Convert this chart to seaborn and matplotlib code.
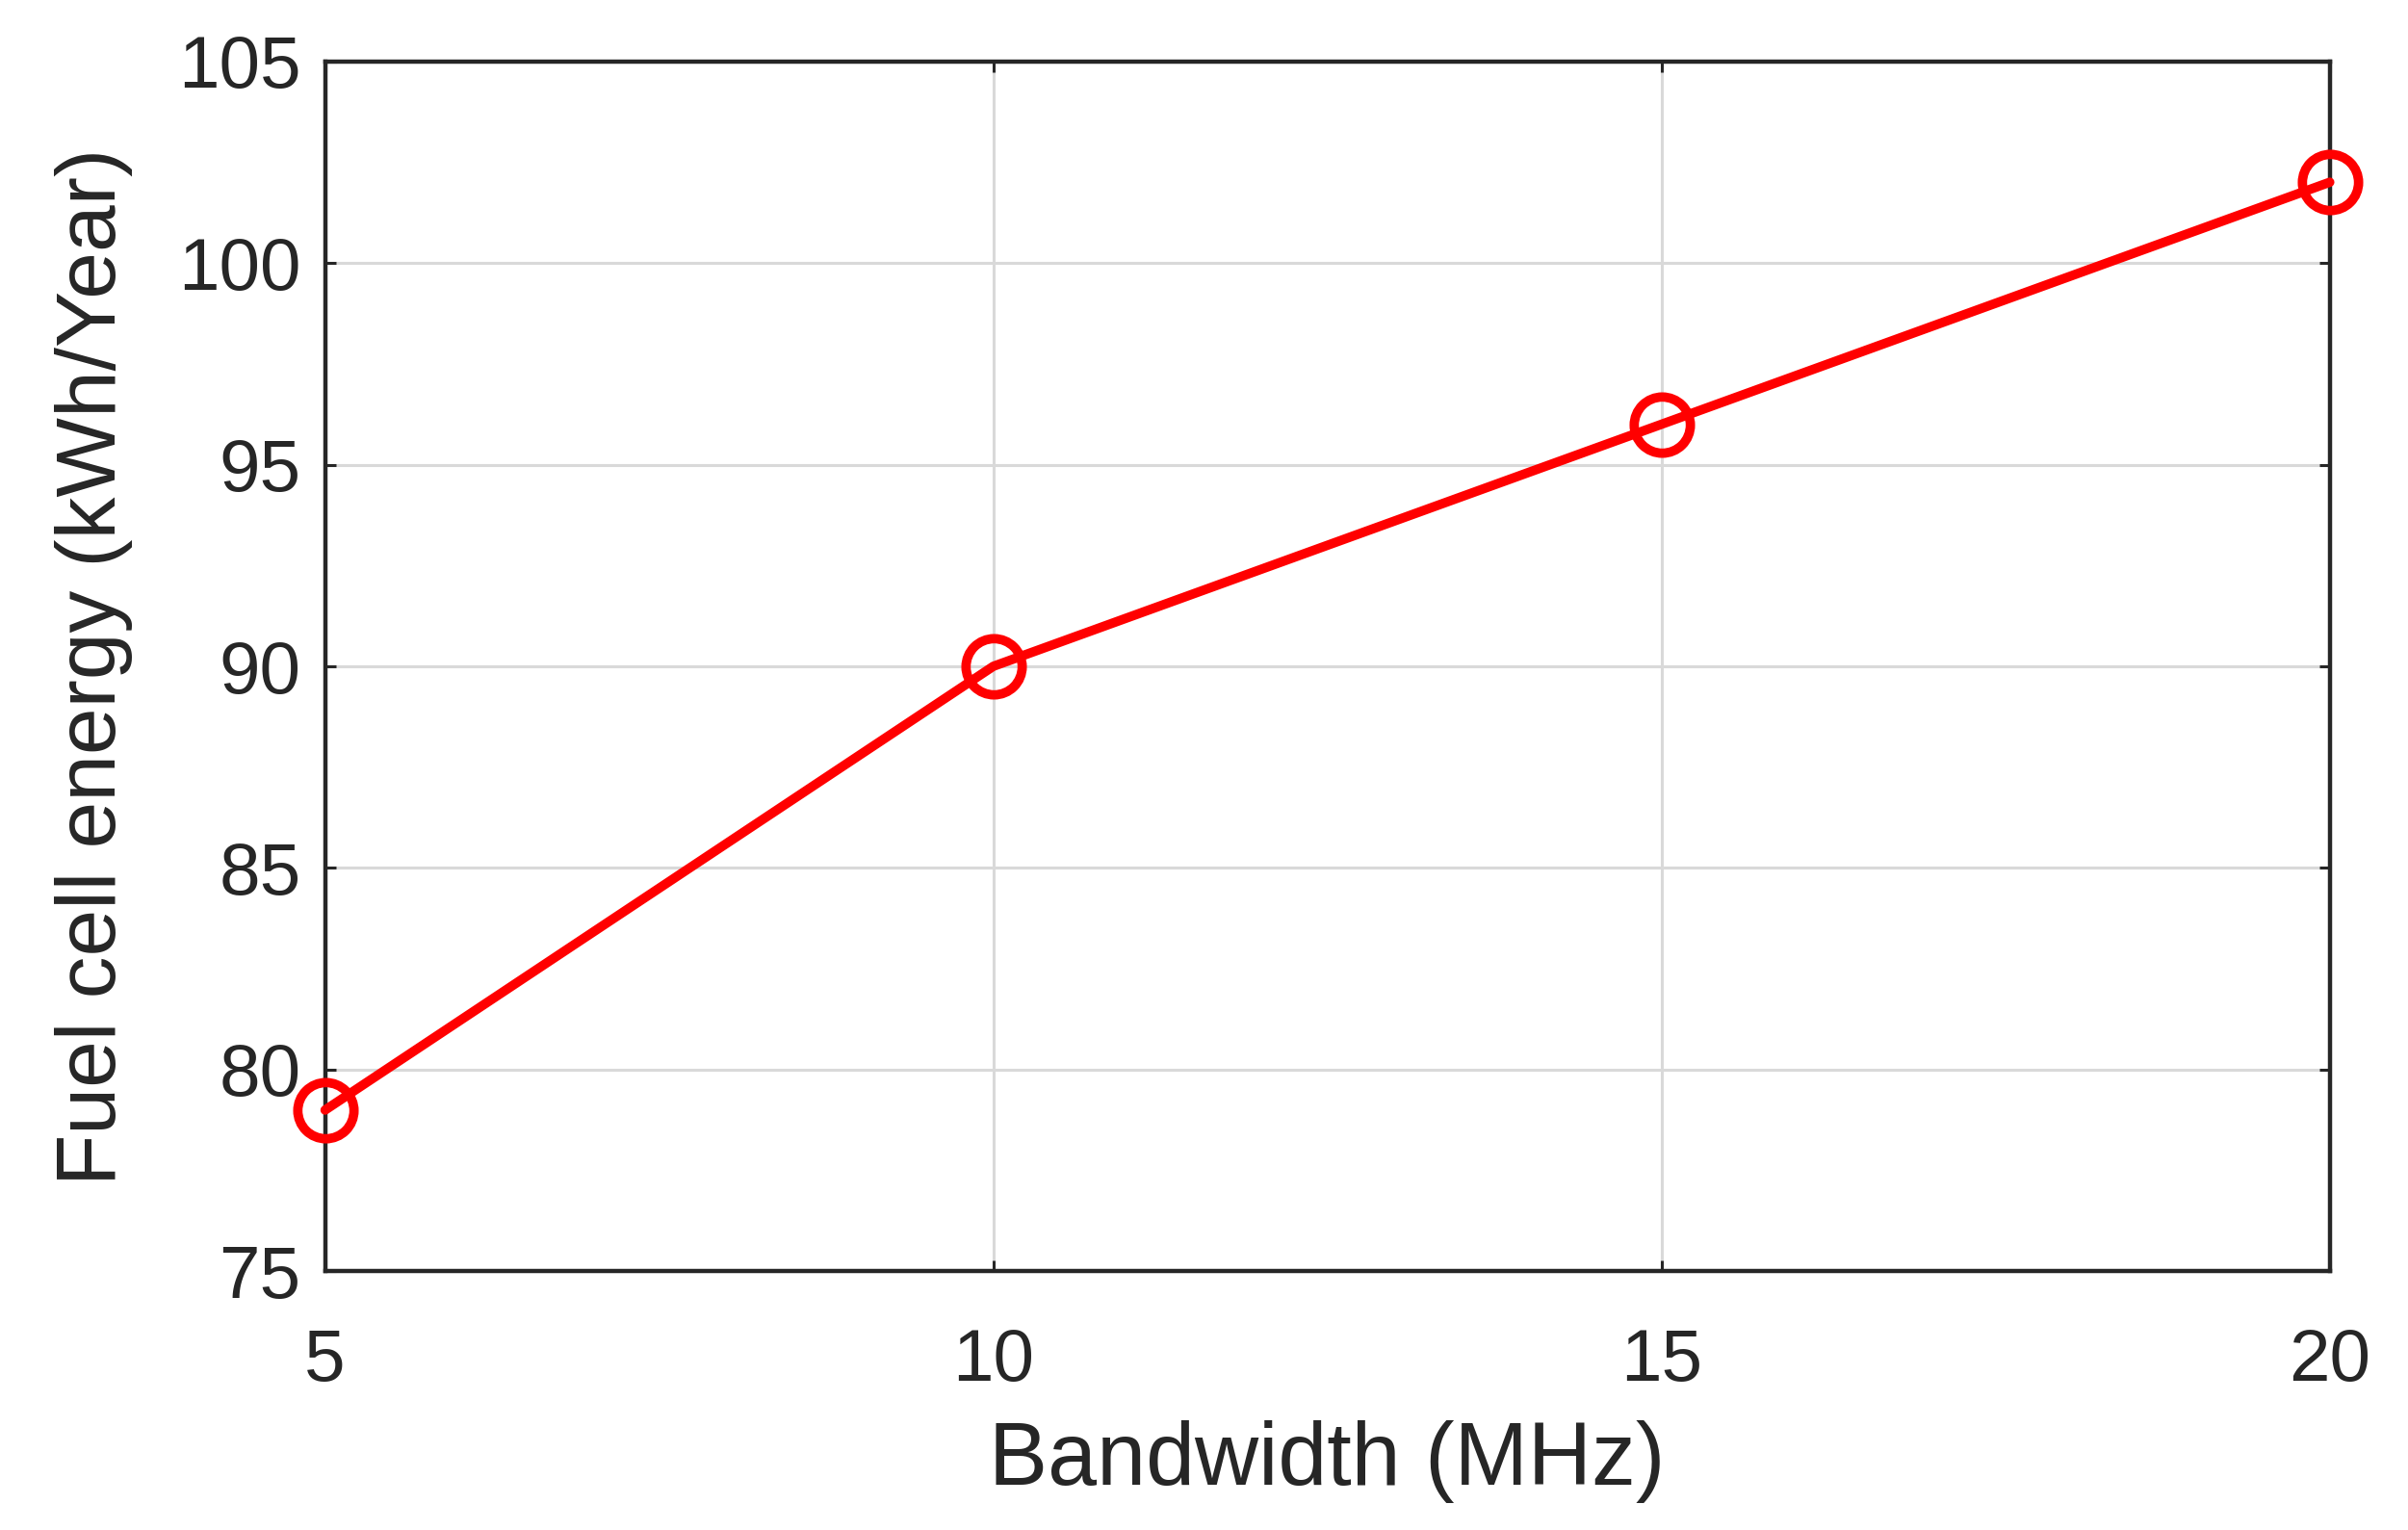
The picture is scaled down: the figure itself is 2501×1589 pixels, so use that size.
import matplotlib
matplotlib.use("Agg")
import matplotlib.pyplot as plt
import seaborn as sns
import pandas as pd

bandwidth = [5, 10, 15, 20]
energy = [79, 90, 96, 102]
x_ticks = [5, 10, 15, 20]
y_ticks = [75, 80, 85, 90, 95, 100, 105]

sns.set_theme(style="white")
plt.rcParams['font.family'] = ['Liberation Sans', 'DejaVu Sans']

df = pd.DataFrame({"Bandwidth": bandwidth, "Energy": energy})

fig = plt.figure(figsize=(25.01, 15.89), dpi=100)
ax = fig.add_axes([0.135, 0.169, 0.8325, 0.791])

sns.lineplot(data=df, x="Bandwidth", y="Energy", ax=ax, color="#ff0000",
             linewidth=7, marker="o", markersize=42, markerfacecolor="none",
             markeredgecolor="#ff0000", markeredgewidth=7, clip_on=False, zorder=5)

ax.set_xlim(5, 20)
ax.set_ylim(75, 105)
ax.set_xticks(x_ticks)
ax.set_yticks(y_ticks)
ax.grid(True, color="#d9d9d9", linewidth=2.2)
ax.set_axisbelow(True)
for s in ax.spines.values():
    s.set_color("#262626")
    s.set_linewidth(3.2)
ax.tick_params(axis="both", which="both", direction="in", length=8, width=2.2,
               color="#262626", labelcolor="#262626", labelsize=55,
               top=True, right=True, left=True, bottom=True)
ax.tick_params(axis="x", pad=42)
ax.tick_params(axis="y", pad=18)
ax.set_xlabel("Bandwidth (MHz)", fontsize=66, color="#262626", labelpad=18)
ax.set_ylabel("Fuel cell energy (kWh/Year)", fontsize=63, color="#262626", labelpad=34)

fig.savefig("out.png", dpi=100, facecolor="white")
